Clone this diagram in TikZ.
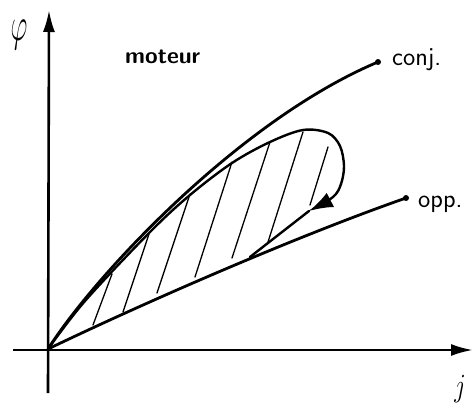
\documentclass[tikz,border=0pt]{standalone}
\usetikzlibrary{arrows.meta}
\begin{document}
\begin{tikzpicture}[x=1pt,y=-1pt,
  axis/.style={line width=2.6pt,-{Latex[length=22pt,width=12pt]}},
  curve/.style={line width=2.8pt,line cap=round},
  loopline/.style={line width=2.4pt,line cap=round},
  hatch/.style={line width=1.3pt,line cap=round},
  enddot/.style={circle,fill,inner sep=0pt,minimum size=6pt},
  lbl/.style={font=\fontsize{26}{28}\selectfont\sffamily,anchor=base west,inner sep=0pt}]
\useasboundingbox (0,0) rectangle (473,414);
% anchor points
\coordinate (O) at (48,349);
\node[enddot] (cE) at (378,62) {};
\node[enddot] (oE) at (406,198) {};
\coordinate (yB) at (48,393);
\coordinate (yT) at (49,10);
\coordinate (xL) at (13,350);
\coordinate (xR) at (473,350);
% axes
\draw[axis] (yB) -- (yT);
\draw[axis] (xL) -- (xR);
% conj and opp curves
\draw[curve] (O) .. controls (95,275) and (240,120) .. (cE.center);
\draw[curve] (O) .. controls (150,300) and (300,235) .. (oE.center);
% loop
\draw[loopline,-{Latex[length=24pt,width=16pt]}] plot[smooth,tension=0.55] coordinates
  {(48,349) (85,301) (150,232) (190,195) (232,163) (270,142) (303,130) (328,133) (340,146) (344,166) (341,184) (333,197) (309,211)};
\coordinate (aT) at (309,211);
\coordinate (mG) at (250,257);
\draw[loopline] (aT) -- (mG);
% hatching
\draw[hatch] (93,325) -- (112,274);
\draw[hatch] (123,312) -- (149,234);
\draw[hatch] (157,293) -- (190,194);
\draw[hatch] (195,277) -- (232,162);
\draw[hatch] (232,258) -- (270,142);
\draw[hatch] (268,242) -- (303,132);
\draw[hatch] (310,205) -- (328,147);
% labels
\node[lbl] (conj) at (392,66) {conj.};
\node[lbl] (opp) at (418,207) {opp.};
\node[font=\fontsize{23}{25}\selectfont\sffamily\bfseries,anchor=base west,inner sep=0pt] (mot) at (125,64) {moteur};
\node[inner sep=0pt] (phi) at (19,35) {\scalebox{1.05}[1.9]{\fontsize{30}{32}\selectfont$\varphi$}};
\node[inner sep=0pt] (jl) at (460,389) {\scalebox{1}[1.3]{\fontsize{52}{54}\selectfont$j$}};
\end{tikzpicture}
\end{document}
